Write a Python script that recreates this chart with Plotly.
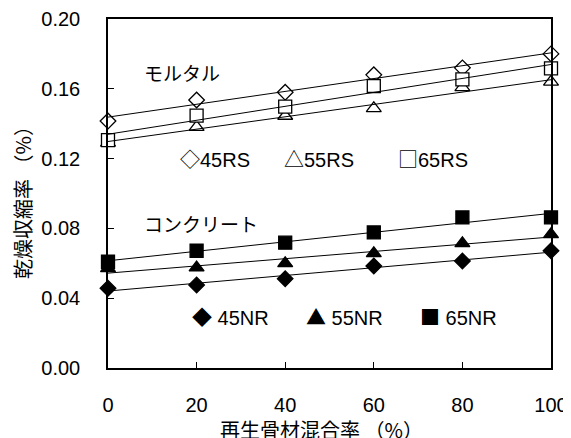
import numpy as np
import plotly.graph_objects as go

# Data
x_rate = [0, 20, 40, 60, 80, 100]

rs45 = [0.1415, 0.1536, 0.1580, 0.1680, 0.1720, 0.1800]
rs55 = [0.1290, 0.1380, 0.1444, 0.1488, 0.1608, 0.1640]
rs65 = [0.1306, 0.1446, 0.1498, 0.1616, 0.1654, 0.1717]

nr45 = [0.0457, 0.0476, 0.0512, 0.0585, 0.0613, 0.0672]
nr55 = [0.0571, 0.0575, 0.0600, 0.0657, 0.0714, 0.0766]
nr65 = [0.0609, 0.0672, 0.0718, 0.0777, 0.0863, 0.0863]

x_ticks = [0, 20, 40, 60, 80, 100]
y_ticks = [0.00, 0.04, 0.08, 0.12, 0.16, 0.20]
y_tick_labels = ["0.00", "0.04", "0.08", "0.12", "0.16", "0.20"]

series = [
    ("45RS", rs45, "diamond", 12, "white"),
    ("55RS", rs55, "triangle-up", 13, "white"),
    ("65RS", rs65, "square", 13, "white"),
    ("45NR", nr45, "diamond", 12, "black"),
    ("55NR", nr55, "triangle-up", 13, "black"),
    ("65NR", nr65, "square", 13, "black"),
]

fig = go.Figure()

for name, ys, sym_, size, fill in series:
    fig.add_trace(go.Scatter(
        x=x_rate, y=ys, mode="markers", name=name, cliponaxis=False,
        marker=dict(symbol=sym_, size=size, color=fill,
                    line=dict(color="black", width=1.3)),
        showlegend=False,
    ))

# linear trend lines (drawn on top of markers, as in the reference)
xs = np.array(x_rate, dtype=float)
for name, ys, sym_, size, fill in series:
    k, b = np.polyfit(xs, np.array(ys), 1)
    xl = np.array([xs.min(), xs.max()])
    fig.add_trace(go.Scatter(
        x=xl, y=k * xl + b, mode="lines", cliponaxis=False,
        line=dict(color="black", width=1), showlegend=False, hoverinfo="skip",
    ))

FONT = "Liberation Sans, Arial, sans-serif"
JFONT = "Noto Sans CJK JP, sans-serif"

W, H = 571, 438
OFF = 8  # page body margin offset
ml, mr, mt = 108 - OFF, 20 + OFF, 19 - OFF
pw, ph = 443, 349
mb = H - mt - ph


def px_to_paper(px, py):
    # px, py are screen coordinates in the reference
    fx, fy = px - OFF, py - OFF
    return (fx - ml) / pw, (H - mb - fy) / ph


def add_text(txt, px, py, fam=FONT, size=20, xanchor="left", angle=0):
    x, y = px_to_paper(px, py)
    fig.add_annotation(text=txt, x=x, y=y, xref="paper", yref="paper",
                       xanchor=xanchor, yanchor="middle", showarrow=False,
                       textangle=angle,
                       font=dict(family=fam, size=size, color="black"))


def sym(s):
    return '<span style="font-family:Noto Sans CJK JP">' + s + '</span>'


add_text("モルタル", 142, 72, JFONT, 19)
add_text("コンクリート", 142, 224, JFONT, 19)
add_text(sym("◇") + "45RS", 178, 158)
add_text(sym("△") + "55RS", 282, 158)
add_text(sym("□") + "65RS", 396, 158)
add_text(sym("◆") + " 45NR", 190, 316)
add_text(sym("▲") + " 55NR", 304, 316)
add_text(sym("■") + " 65NR", 418, 316)

# axis titles
add_text("再生骨材混合率 （%）", 321, 429, JFONT, 20, xanchor="center")
add_text("乾燥収縮率 （%）", 22, 198, JFONT, 20, xanchor="center", angle=-90)

fig.update_layout(
    width=W, height=H,
    margin=dict(l=ml, r=mr, t=mt, b=mb, autoexpand=False),
    paper_bgcolor="white", plot_bgcolor="white",
    font=dict(family=FONT, size=20, color="black"),
    showlegend=False,
)
fig.update_xaxes(
    range=[0, 100], tickvals=x_ticks, ticks="inside", ticklen=6, tickwidth=1,
    tickcolor="black", showline=True, linecolor="black", linewidth=1.5,
    mirror=True, showgrid=False, zeroline=False, ticklabelstandoff=18,
    tickfont=dict(family=FONT, size=20), automargin=False,
)
fig.update_yaxes(
    range=[0, 0.20], tickvals=y_ticks, ticktext=y_tick_labels, ticks="inside",
    ticklen=6, tickwidth=1, tickcolor="black", showline=True, linecolor="black",
    linewidth=1.5, mirror=True, showgrid=False, zeroline=False,
    ticklabelstandoff=22, tickfont=dict(family=FONT, size=20), automargin=False,
)

fig.write_html("out.html")
